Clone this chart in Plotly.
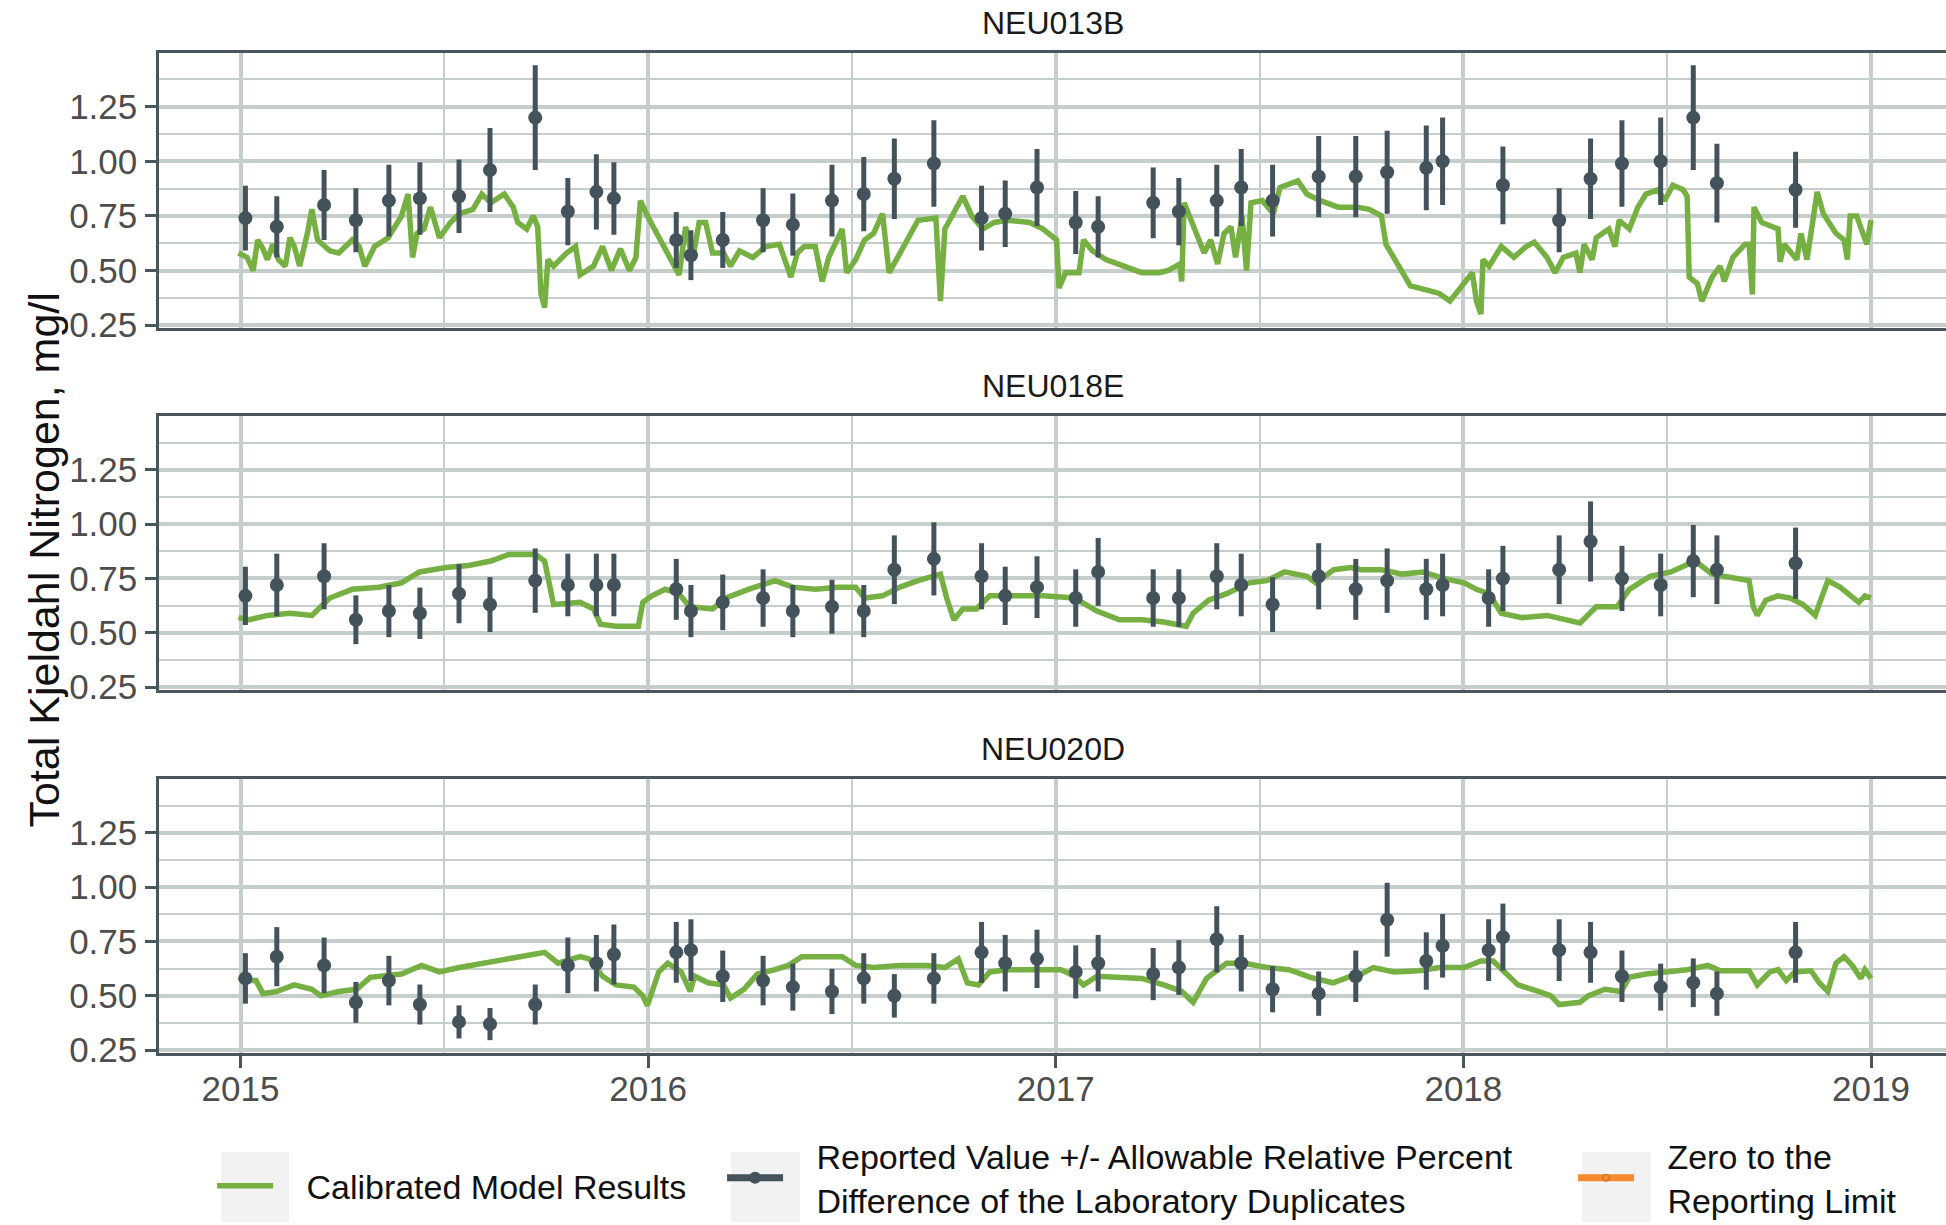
import plotly.graph_objects as go

# ── Sampling dates (decimal years) ────────────────────────────────────────────
obs_years_013b = [
    2015.012, 2015.089, 2015.205, 2015.283, 2015.364, 2015.440, 2015.536, 2015.612,
    2015.723, 2015.803, 2015.873, 2015.916, 2016.069, 2016.105, 2016.183, 2016.282,
    2016.355, 2016.451, 2016.529, 2016.604, 2016.701, 2016.818, 2016.876, 2016.954,
    2017.049, 2017.104, 2017.239, 2017.302, 2017.395, 2017.455, 2017.532, 2017.645,
    2017.736, 2017.813, 2017.909, 2017.949, 2018.097, 2018.235, 2018.312, 2018.389,
    2018.484, 2018.564, 2018.622, 2018.815,
]
obs_years_018e_020d = [
    2015.012, 2015.089, 2015.205, 2015.283, 2015.364, 2015.440, 2015.536, 2015.612,
    2015.723, 2015.803, 2015.873, 2015.916, 2016.069, 2016.105, 2016.183, 2016.282,
    2016.355, 2016.451, 2016.529, 2016.604, 2016.701, 2016.818, 2016.876, 2016.954,
    2017.049, 2017.104, 2017.239, 2017.302, 2017.395, 2017.455, 2017.532, 2017.645,
    2017.736, 2017.813, 2017.909, 2017.949, 2018.062, 2018.097, 2018.235, 2018.312,
    2018.389, 2018.484, 2018.564, 2018.622, 2018.815,
]

# ── Reported TKN values (mg/l) ────────────────────────────────────────────────
obs_013b = [
    0.74, 0.70, 0.80, 0.73, 0.82, 0.83, 0.84, 0.96, 1.20, 0.77, 0.86, 0.83,
    0.64, 0.57, 0.64, 0.73, 0.71, 0.82, 0.85, 0.92, 0.99, 0.74, 0.76, 0.88,
    0.72, 0.70, 0.81, 0.77, 0.82, 0.88, 0.82, 0.93, 0.93, 0.95, 0.97, 1.00,
    0.89, 0.73, 0.92, 0.99, 1.00, 1.20, 0.90, 0.87,
]
obs_018e = [
    0.67, 0.72, 0.76, 0.56, 0.60, 0.59, 0.68, 0.63, 0.74, 0.72, 0.72, 0.72,
    0.70, 0.60, 0.64, 0.66, 0.60, 0.62, 0.60, 0.79, 0.84, 0.76, 0.67, 0.71,
    0.66, 0.78, 0.66, 0.66, 0.76, 0.72, 0.63, 0.76, 0.70, 0.74, 0.70, 0.72,
    0.66, 0.75, 0.79, 0.92, 0.75, 0.72, 0.83, 0.79, 0.82,
]
obs_020d = [
    0.58, 0.68, 0.64, 0.47, 0.57, 0.46, 0.38, 0.37, 0.46, 0.64, 0.65, 0.69,
    0.70, 0.71, 0.59, 0.57, 0.54, 0.52, 0.58, 0.50, 0.58, 0.70, 0.65, 0.67,
    0.61, 0.65, 0.60, 0.63, 0.76, 0.65, 0.53, 0.51, 0.59, 0.85, 0.66, 0.73,
    0.71, 0.77, 0.71, 0.70, 0.59, 0.54, 0.56, 0.51, 0.70,
]

# ── Calibrated model results ──────────────────────────────────────────────────
model_years_013b = [
    2014.995, 2015.016, 2015.031, 2015.042, 2015.055, 2015.066, 2015.079, 2015.093,
    2015.110, 2015.121, 2015.132, 2015.145, 2015.164, 2015.175, 2015.189, 2015.219,
    2015.241, 2015.274, 2015.291, 2015.305, 2015.329, 2015.362, 2015.395, 2015.411,
    2015.422, 2015.433, 2015.450, 2015.466, 2015.488, 2015.515, 2015.537, 2015.570,
    2015.592, 2015.614, 2015.647, 2015.669, 2015.680, 2015.702, 2015.718, 2015.729,
    2015.737, 2015.746, 2015.754, 2015.768, 2015.800, 2015.822, 2015.833, 2015.866,
    2015.888, 2015.910, 2015.932, 2015.954, 2015.970, 2015.981, 2015.998,
    2016.037, 2016.076, 2016.092, 2016.109, 2016.125, 2016.141, 2016.158, 2016.185,
    2016.202, 2016.224, 2016.257, 2016.289, 2016.322, 2016.350, 2016.366, 2016.383,
    2016.410, 2016.427, 2016.443, 2016.476, 2016.487, 2016.509, 2016.531, 2016.553,
    2016.575, 2016.591, 2016.618, 2016.662, 2016.706, 2016.717, 2016.728, 2016.750,
    2016.772, 2016.794, 2016.821, 2016.849, 2016.882, 2016.936, 2016.969, 2017.002,
    2017.008, 2017.024, 2017.057, 2017.068, 2017.090, 2017.123, 2017.167, 2017.211,
    2017.254, 2017.276, 2017.304, 2017.309, 2017.315, 2017.331, 2017.364, 2017.380,
    2017.397, 2017.413, 2017.430, 2017.441, 2017.457, 2017.468, 2017.479, 2017.507,
    2017.534, 2017.550, 2017.594, 2017.616, 2017.649, 2017.693,
    2017.739, 2017.769, 2017.799, 2017.810, 2017.840, 2017.870, 2017.911, 2017.941,
    2017.967, 2017.987, 2018.022, 2018.032, 2018.043, 2018.048, 2018.063, 2018.093,
    2018.124, 2018.154, 2018.174, 2018.205, 2018.225, 2018.245, 2018.276, 2018.286,
    2018.296, 2018.316, 2018.326, 2018.357, 2018.372, 2018.382, 2018.407, 2018.428,
    2018.448, 2018.478, 2018.493, 2018.514, 2018.539, 2018.549, 2018.554, 2018.574,
    2018.585, 2018.610, 2018.630, 2018.640, 2018.661, 2018.691, 2018.701, 2018.709,
    2018.713, 2018.732, 2018.772, 2018.777, 2018.787, 2018.818, 2018.828, 2018.843,
    2018.853, 2018.868, 2018.883, 2018.914, 2018.934, 2018.942, 2018.949, 2018.965,
    2018.980, 2018.990, 2019.000,
]
model_013b = [
    0.58, 0.56, 0.50, 0.64, 0.60, 0.55, 0.62, 0.55,
    0.52, 0.65, 0.61, 0.52, 0.67, 0.78, 0.64, 0.59,
    0.58, 0.64, 0.61, 0.52, 0.61, 0.65, 0.75, 0.85,
    0.56, 0.67, 0.69, 0.79, 0.65, 0.72, 0.76, 0.78,
    0.85, 0.81, 0.85, 0.79, 0.72, 0.69, 0.75, 0.70,
    0.395, 0.33, 0.55, 0.52, 0.58, 0.61, 0.48, 0.52,
    0.61, 0.50, 0.60, 0.50, 0.56, 0.82, 0.75,
    0.62, 0.48, 0.70, 0.55, 0.72, 0.72, 0.58, 0.58,
    0.52, 0.59, 0.56, 0.61, 0.62, 0.47, 0.58, 0.61,
    0.61, 0.45, 0.56, 0.69, 0.49, 0.55, 0.64, 0.67,
    0.76, 0.49, 0.58, 0.73, 0.74, 0.36, 0.69, 0.76,
    0.84, 0.75, 0.69, 0.72, 0.73, 0.72, 0.69, 0.64,
    0.42, 0.49, 0.49, 0.64, 0.59, 0.55, 0.52, 0.49,
    0.49, 0.50, 0.53, 0.45, 0.81, 0.73, 0.58, 0.64,
    0.53, 0.67, 0.70, 0.56, 0.75, 0.50, 0.81, 0.82,
    0.76, 0.88, 0.91, 0.85, 0.82, 0.79,
    0.79, 0.78, 0.75, 0.62, 0.52, 0.43, 0.41, 0.395,
    0.36, 0.41, 0.49, 0.36, 0.30, 0.55, 0.52, 0.61,
    0.56, 0.61, 0.63, 0.56, 0.49, 0.56, 0.58, 0.49,
    0.62, 0.55, 0.65, 0.69, 0.61, 0.73, 0.69, 0.79,
    0.85, 0.87, 0.82, 0.89, 0.87, 0.84, 0.47, 0.44,
    0.36, 0.47, 0.52, 0.45, 0.56, 0.62, 0.62, 0.39,
    0.79, 0.72, 0.69, 0.54, 0.62, 0.55, 0.67, 0.55,
    0.69, 0.86, 0.76, 0.67, 0.64, 0.55, 0.75, 0.75,
    0.67, 0.62, 0.73,
]

model_years_018e = [
    2014.995, 2015.022, 2015.066, 2015.121, 2015.175, 2015.219, 2015.274, 2015.340,
    2015.395, 2015.439, 2015.504, 2015.559, 2015.614, 2015.658, 2015.724, 2015.746,
    2015.768, 2015.833, 2015.866, 2015.883, 2015.921, 2015.976, 2015.987, 2016.009,
    2016.042, 2016.075, 2016.102,
    2016.158, 2016.191, 2016.246, 2016.311, 2016.355, 2016.410, 2016.465, 2016.509,
    2016.531, 2016.575, 2016.618, 2016.662, 2016.706, 2016.717, 2016.734, 2016.750,
    2016.772, 2016.805, 2016.838, 2016.882, 2016.969, 2017.046, 2017.079, 2017.101,
    2017.156, 2017.211, 2017.265, 2017.320, 2017.337, 2017.375, 2017.419, 2017.474,
    2017.518, 2017.561, 2017.616, 2017.638, 2017.682, 2017.724,
    2017.749, 2017.799, 2017.850, 2017.901, 2017.951, 2018.002, 2018.032, 2018.063,
    2018.093, 2018.144, 2018.205, 2018.255, 2018.286, 2018.326, 2018.377, 2018.407,
    2018.458, 2018.509, 2018.569, 2018.610, 2018.661, 2018.701, 2018.711, 2018.721,
    2018.742, 2018.772, 2018.802, 2018.833, 2018.863, 2018.878, 2018.894, 2018.924,
    2018.944, 2018.970, 2018.985, 2019.000,
]
model_018e = [
    0.57, 0.56, 0.58, 0.59, 0.58, 0.66, 0.70, 0.71,
    0.73, 0.78, 0.80, 0.81, 0.83, 0.86, 0.86, 0.83,
    0.63, 0.64, 0.61, 0.54, 0.53, 0.53, 0.64, 0.67,
    0.70, 0.68, 0.62,
    0.61, 0.66, 0.70, 0.74, 0.71, 0.70, 0.71, 0.71,
    0.66, 0.67, 0.71, 0.74, 0.76, 0.77, 0.65, 0.56,
    0.61, 0.61, 0.67, 0.67, 0.67, 0.66, 0.62, 0.60,
    0.56, 0.56, 0.55, 0.53, 0.59, 0.65, 0.68, 0.73,
    0.74, 0.78, 0.76, 0.73, 0.79, 0.80,
    0.79, 0.79, 0.77, 0.78, 0.75, 0.73, 0.70, 0.68,
    0.59, 0.57, 0.58, 0.56, 0.545, 0.62, 0.62, 0.70,
    0.76, 0.78, 0.83, 0.77, 0.75, 0.74, 0.62, 0.58,
    0.65, 0.67, 0.66, 0.63, 0.58, 0.65, 0.74, 0.71,
    0.68, 0.64, 0.67, 0.66,
]

model_years_020d = [
    2014.995, 2015.016, 2015.038, 2015.055, 2015.088, 2015.132, 2015.175, 2015.197,
    2015.241, 2015.285, 2015.318, 2015.362, 2015.395, 2015.444, 2015.488, 2015.537,
    2015.592, 2015.647, 2015.702, 2015.746, 2015.779, 2015.833, 2015.855, 2015.888,
    2015.921, 2015.965, 2015.987, 2015.998,
    2016.026, 2016.048, 2016.081, 2016.103, 2016.114, 2016.147, 2016.185, 2016.202,
    2016.235, 2016.268, 2016.311, 2016.344, 2016.377, 2016.432, 2016.476, 2016.509,
    2016.553, 2016.618, 2016.684, 2016.728, 2016.761, 2016.783, 2016.810, 2016.838,
    2016.882, 2016.947, 2017.013, 2017.046, 2017.068, 2017.101, 2017.156, 2017.211,
    2017.265, 2017.309, 2017.337, 2017.370, 2017.419, 2017.463, 2017.518, 2017.572,
    2017.625, 2017.680, 2017.724,
    2017.739, 2017.779, 2017.830, 2017.891, 2017.941, 2018.002, 2018.043, 2018.073,
    2018.103, 2018.134, 2018.184, 2018.215, 2018.235, 2018.286, 2018.306, 2018.347,
    2018.387, 2018.407, 2018.448, 2018.488, 2018.549, 2018.600, 2018.630, 2018.701,
    2018.721, 2018.752, 2018.772, 2018.792, 2018.813, 2018.853, 2018.873, 2018.894,
    2018.914, 2018.934, 2018.954, 2018.975, 2018.985, 2019.000,
]
model_020d = [
    0.585, 0.57, 0.57, 0.51, 0.52, 0.55, 0.53, 0.50,
    0.52, 0.53, 0.585, 0.59, 0.60, 0.64, 0.61, 0.63,
    0.65, 0.67, 0.69, 0.70, 0.65, 0.68, 0.67, 0.59,
    0.55, 0.54, 0.50, 0.455,
    0.61, 0.65, 0.61, 0.52, 0.59, 0.56, 0.55, 0.49,
    0.53, 0.60, 0.62, 0.64, 0.68, 0.68, 0.68, 0.64,
    0.63, 0.64, 0.64, 0.63, 0.67, 0.56, 0.55, 0.61,
    0.62, 0.62, 0.62, 0.59, 0.55, 0.59, 0.585, 0.58,
    0.55, 0.52, 0.47, 0.58, 0.65, 0.65, 0.63, 0.62,
    0.585, 0.56, 0.59,
    0.59, 0.63, 0.61, 0.615, 0.63, 0.63, 0.66, 0.66,
    0.61, 0.55, 0.52, 0.50, 0.46, 0.47, 0.50, 0.53,
    0.52, 0.585, 0.60, 0.61, 0.62, 0.64, 0.615, 0.615,
    0.55, 0.61, 0.62, 0.57, 0.61, 0.615, 0.56, 0.52,
    0.65, 0.68, 0.64, 0.58, 0.62, 0.58,
]

stations = ["NEU013B", "NEU018E", "NEU020D"]
y_ticks = [0.25, 0.50, 0.75, 1.00, 1.25]
x_ticks = [2015, 2016, 2017, 2018, 2019]

# ── Style ─────────────────────────────────────────────────────────────────────
GREEN = "#76b043"
SLATE = "#44525c"
ORANGE = "#f58a2e"
GRID = "#c6cecb"
FRAME = "#4a565e"
KEY_BG = "#f2f2f2"
FONT = "Liberation Sans, Arial, sans-serif"
PAD = "\u00a0\u00a0\u00a0"  # gap between legend key box and its label

X_RANGE = [2014.8, 2019.184]
Y_RANGE = [0.237, 1.497]
DOMAINS = [(0.7243, 0.9993), (0.3626, 0.6364), (0.0, 0.2737)]

panels = [
    (model_years_013b, model_013b, obs_years_013b, obs_013b),
    (model_years_018e, model_018e, obs_years_018e_020d, obs_018e),
    (model_years_020d, model_020d, obs_years_018e_020d, obs_020d),
]

fig = go.Figure()
for i, (my, mv, oy, ov) in enumerate(panels, start=1):
    xa, ya = ("x", "y") if i == 1 else (f"x{i}", f"y{i}")
    fig.add_trace(go.Scatter(
        x=my, y=mv, mode="lines", xaxis=xa, yaxis=ya,
        name=PAD + "Calibrated Model Results", showlegend=(i == 1), legend="legend",
        line=dict(color=GREEN, width=5.5),
    ))
    fig.add_trace(go.Scatter(
        x=oy, y=ov, mode="markers", xaxis=xa, yaxis=ya, showlegend=False,
        marker=dict(color=SLATE, size=14),
        error_y=dict(type="percent", value=20, thickness=5, width=0, color=SLATE),
    ))

# legend-only entries
fig.add_trace(go.Scatter(
    x=[None], y=[None], mode="lines+markers", legend="legend2",
    name=PAD + "Reported Value +/- Allowable Relative Percent<br>"
         + PAD + "Difference of the Laboratory Duplicates",
    line=dict(color=SLATE, width=7), marker=dict(color=SLATE, size=12),
))
fig.add_trace(go.Scatter(
    x=[None], y=[None], mode="lines+markers", legend="legend3",
    name=PAD + "Zero to the<br>" + PAD + "Reporting Limit",
    line=dict(color=ORANGE, width=7),
    marker=dict(color=ORANGE, size=7, line=dict(color="#c06a20", width=1)),
))

layout = dict(
    template="none",
    width=1946, height=1225,
    margin=dict(l=159, r=0, t=52, b=172, autoexpand=False),
    paper_bgcolor="white", plot_bgcolor="white",
    font=dict(family=FONT, size=35, color="#1a1a1a"),
)
for i, dom in enumerate(DOMAINS, start=1):
    sfx = "" if i == 1 else str(i)
    bottom = i == 3
    layout[f"xaxis{sfx}"] = dict(
        domain=[0, 1], anchor=f"y{sfx}", range=X_RANGE,
        tickvals=x_ticks, ticktext=[str(t) for t in x_ticks],
        showticklabels=bottom, ticks="outside" if bottom else "",
        ticklen=12, tickwidth=3, tickcolor=FRAME,
        tickfont=dict(size=35, color="#4d4d4d"), ticklabelstandoff=-9,
        showgrid=True, gridcolor=GRID, gridwidth=3.5,
        minor=dict(tickvals=[2015.5, 2016.5, 2017.5, 2018.5], showgrid=True,
                   gridcolor=GRID, gridwidth=2.2, ticks=""),
        showline=True, linecolor=FRAME, linewidth=2.5, mirror=True,
        zeroline=False,
    )
    layout[f"yaxis{sfx}"] = dict(
        domain=list(dom), anchor=f"x{sfx}", range=Y_RANGE,
        tickvals=y_ticks, ticktext=[f"{t:.2f}" for t in y_ticks],
        ticks="outside", ticklen=11, tickwidth=3, tickcolor=FRAME,
        tickfont=dict(size=35, color="#4d4d4d"), ticklabelstandoff=1,
        showgrid=True, gridcolor=GRID, gridwidth=3.5,
        minor=dict(tickvals=[0.375, 0.625, 0.875, 1.125, 1.375], showgrid=True,
                   gridcolor=GRID, gridwidth=2.2, ticks=""),
        showline=True, linecolor=FRAME, linewidth=2.5, mirror=False,
        zeroline=False,
    )

legend_common = dict(
    orientation="h", xanchor="left", yanchor="middle", yref="paper",
    bgcolor="rgba(0,0,0,0)", borderwidth=0, itemwidth=56,
    font=dict(family=FONT, size=34, color="#111111"),
    itemclick=False, itemdoubleclick=False,
)
layout["legend"] = dict(legend_common, x=0.0297, y=-0.1329)
layout["legend2"] = dict(legend_common, x=0.3151, y=-0.1249)
layout["legend3"] = dict(legend_common, x=0.7913, y=-0.1249)

fig.update_layout(**layout)

# gray legend key backgrounds
for x0, x1 in [(0.0347, 0.0728), (0.3201, 0.3587), (0.7963, 0.8349)]:
    fig.add_shape(type="rect", xref="paper", yref="paper", x0=x0, x1=x1,
                  y0=-0.1688, y1=-0.0989, fillcolor=KEY_BG, line=dict(width=0),
                  layer="below")

# facet strip labels
for name, dom in zip(stations, DOMAINS):
    fig.add_annotation(text=name, xref="paper", yref="paper", x=0.5, y=dom[1],
                       xanchor="center", yanchor="middle", yshift=30, showarrow=False,
                       font=dict(size=32, color="#1a1a1a"))

fig.add_annotation(text="Total Kjeldahl Nitrogen, mg/l", xref="paper", yref="paper",
                   x=-0.0649, y=0.5, xanchor="center", yanchor="middle", yshift=-8,
                   textangle=-90, showarrow=False, font=dict(size=43, color="#111111"))

fig.write_html("out.html", config={"displayModeBar": False},
               post_script="document.body.style.margin = '0';")
